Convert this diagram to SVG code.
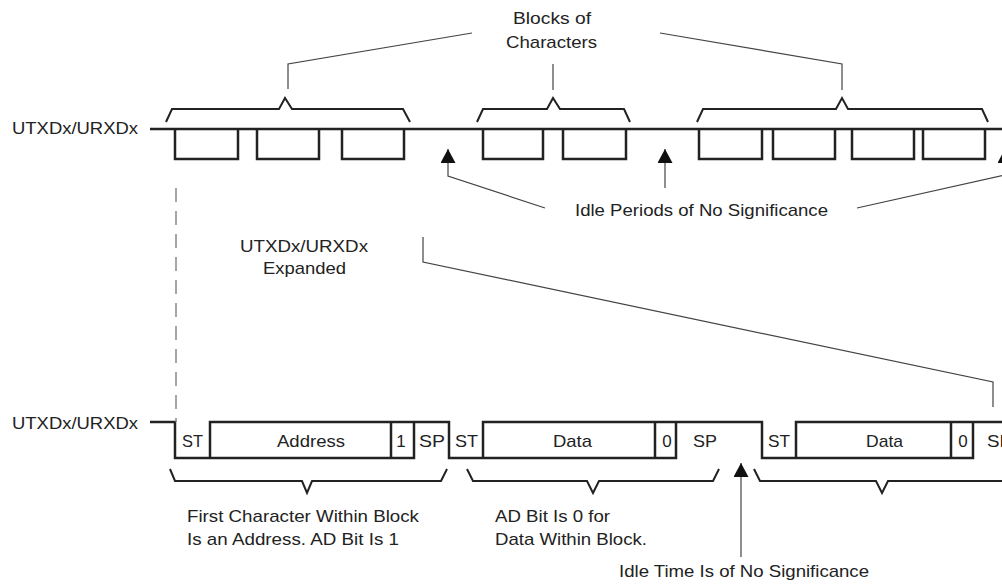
<svg xmlns="http://www.w3.org/2000/svg" width="1002" height="585" viewBox="0 0 1002 585">
<defs>
<style>
text{font-family:"Liberation Sans",Arial,sans-serif;font-size:17px;fill:#222}
.sig{fill:none;stroke:#222;stroke-width:2.5;stroke-linejoin:miter}
.brace{fill:none;stroke:#222;stroke-width:2}
.lead{fill:none;stroke:#444;stroke-width:1.2}
.dash{fill:none;stroke:#888;stroke-width:1.5;stroke-dasharray:14 9}
.mid{text-anchor:middle}
</style>
<marker id="ah" markerUnits="userSpaceOnUse" markerWidth="15" markerHeight="15" viewBox="0 0 14 15" refX="14" refY="7.5" orient="auto">
<path d="M0,0 L14,7.5 L0,15 z" fill="#111"/>
</marker>
</defs>
<rect width="1002" height="585" fill="#fff"/>

<g id="top-signal">
<text x="12" y="134" textLength="126" lengthAdjust="spacingAndGlyphs">UTXDx/URXDx</text>
<path class="sig" d="M150,129 H1002"/>
<path class="sig" d="M175,129 V159 H238 V129 M257,129 V159 H319 V129 M342,129 V159 H404 V129 M483,129 V159 H543 V129 M563,129 V159 H626 V129 M699,129 V159 H762 V129 M773,129 V159 H835 V129 M852,129 V159 H914 V129 M923,129 V159 H985 V129"/>
</g>

<g id="top-braces">
<path class="brace" d="M166,122 L172,109 H279 L285,98 L292,109 H403 L410,122"/>
<path class="brace" d="M477,122 L483,109 H547 L553,98 L560,109 H624 L630,122"/>
<path class="brace" d="M697,122 L703,109 H836 L842,98 L848,109 H982 L988,122"/>
</g>

<g id="blocks-label">
<text x="513" y="24" textLength="78" lengthAdjust="spacingAndGlyphs">Blocks of</text>
<text x="506" y="48" textLength="91" lengthAdjust="spacingAndGlyphs">Characters</text>
</g>

<g id="idle-periods-label">
<text x="575" y="216" textLength="253" lengthAdjust="spacingAndGlyphs">Idle Periods of No Significance</text>
</g>

<g id="expanded-label">
<text x="240" y="252" textLength="128" lengthAdjust="spacingAndGlyphs">UTXDx/URXDx</text>
<text x="263" y="274" textLength="83" lengthAdjust="spacingAndGlyphs">Expanded</text>
</g>

<g id="bottom-signal">
<text x="12" y="429" textLength="126" lengthAdjust="spacingAndGlyphs">UTXDx/URXDx</text>
<path class="sig" d="M150,422 H175 V458 H414 V422 M210,458 V422 H449 V458 H676 V422 M391,422 V458 M483,458 V422 H762 V458 H973 V422 M655,422 V458 M796,458 V422 H1002 M951,422 V458"/>
<text x="182" y="447" textLength="21" lengthAdjust="spacingAndGlyphs">ST</text>
<text x="277" y="447" textLength="68" lengthAdjust="spacingAndGlyphs">Address</text>
<text class="mid" x="401" y="447">1</text>
<text x="419" y="447" textLength="26" lengthAdjust="spacingAndGlyphs">SP</text>
<text x="455" y="447" textLength="23" lengthAdjust="spacingAndGlyphs">ST</text>
<text x="553" y="447" textLength="39" lengthAdjust="spacingAndGlyphs">Data</text>
<text class="mid" x="667" y="447">0</text>
<text x="693" y="447" textLength="24" lengthAdjust="spacingAndGlyphs">SP</text>
<text x="768" y="447" textLength="22" lengthAdjust="spacingAndGlyphs">ST</text>
<text x="866" y="447" textLength="37" lengthAdjust="spacingAndGlyphs">Data</text>
<text class="mid" x="963" y="447">0</text>
<text x="987" y="447" textLength="25" lengthAdjust="spacingAndGlyphs">SP</text>
</g>

<g id="bottom-braces">
<path class="brace" d="M170,469 L175,481 H302 L307,493 L312,481 H441 L447,469"/>
<path class="brace" d="M467,469 L473,481 H587 L593,493 L599,481 H713 L719,469"/>
<path class="brace" d="M754,469 L760,481 H876 L882,493 L888,481 H1002"/>
</g>

<g id="address-note">
<text x="187" y="522" textLength="232" lengthAdjust="spacingAndGlyphs">First Character Within Block</text>
<text x="187" y="545" textLength="212" lengthAdjust="spacingAndGlyphs">Is an Address. AD Bit Is 1</text>
</g>

<g id="data-note">
<text x="495" y="522" textLength="115" lengthAdjust="spacingAndGlyphs">AD Bit Is 0 for</text>
<text x="495" y="545" textLength="152" lengthAdjust="spacingAndGlyphs">Data Within Block.</text>
</g>

<g id="idle-time-note">
<text x="619" y="577" textLength="250" lengthAdjust="spacingAndGlyphs">Idle Time Is of No Significance</text>
</g>

<g id="connectors">
<path class="lead" d="M288,89 V64 L472,33"/>
<path class="lead" d="M553,90 V64"/>
<path class="lead" d="M842,90 V64 L660,33"/>
<path class="lead" d="M545,208 L448,176 V149" marker-end="url(#ah)"/>
<path class="lead" d="M665,188 V149" marker-end="url(#ah)"/>
<path class="lead" d="M857,208 L1005,175 V149" marker-end="url(#ah)"/>
<path class="lead" d="M423,237 V262 L993,382 V407"/>
<path class="dash" d="M176,188 V422"/>
<path class="lead" d="M741,557 V463" marker-end="url(#ah)"/>
</g>
</svg>
